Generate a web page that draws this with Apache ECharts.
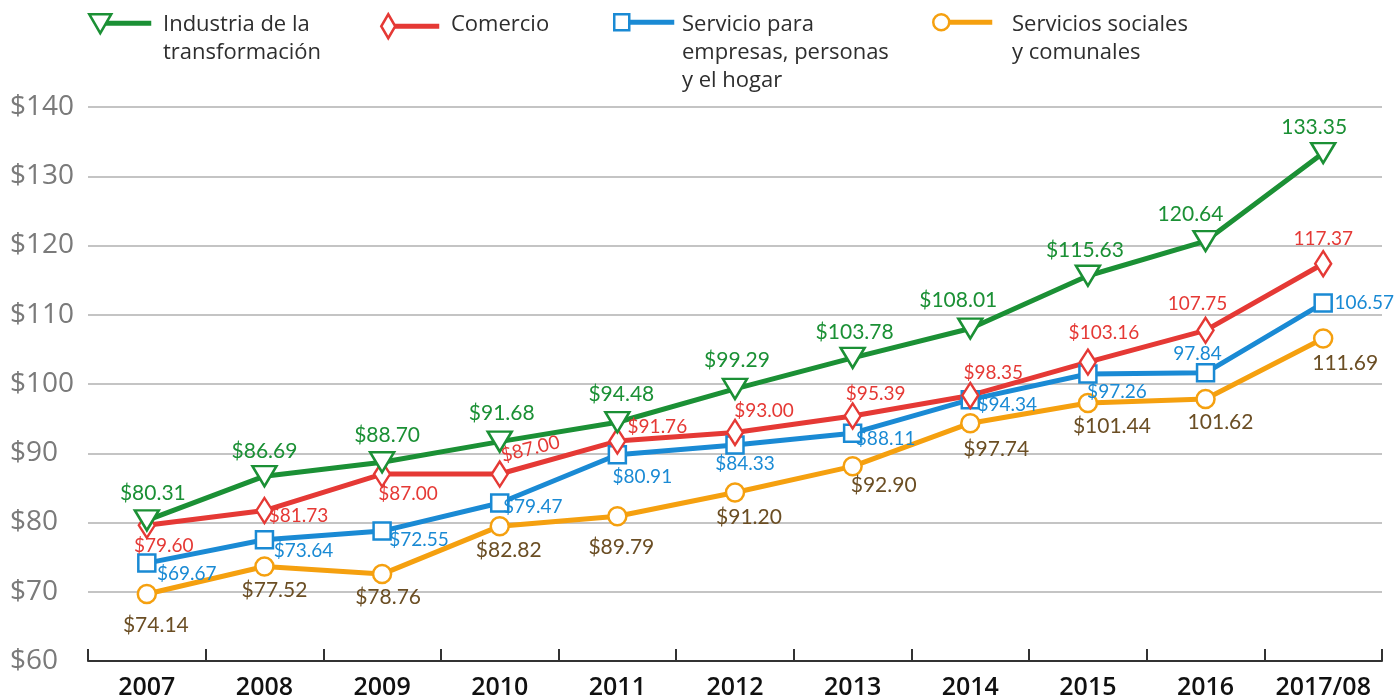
<!DOCTYPE html>
<html>
<head>
<meta charset="utf-8">
<script src="https://cdn.jsdelivr.net/npm/echarts@6/dist/echarts.min.js"></script>
<style>
    html, body { margin: 0; padding: 0; background: #fff; }
    #main { width: 1394px; height: 700px; }
</style>
</head>
<body>
<div id="main"></div>
<script>
    var years = ['2007', '2008', '2009', '2010', '2011', '2012', '2013', '2014', '2015', '2016', '2017/08'];
    var yTicks = [60, 70, 80, 90, 100, 110, 120, 130, 140];

    // valores graficados
    var industria = [80.31, 86.69, 88.70, 91.68, 94.48, 99.29, 103.78, 108.01, 115.63, 120.64, 133.35];
    var comercio = [79.60, 81.73, 87.00, 87.00, 91.76, 93.00, 95.39, 98.35, 103.16, 107.75, 117.37];
    var servEmpresas = [74.14, 77.52, 78.76, 82.82, 89.79, 91.20, 92.90, 97.74, 101.44, 101.62, 111.69];
    var servSociales = [69.67, 73.64, 72.55, 79.47, 80.91, 84.33, 88.11, 94.34, 97.26, 97.84, 106.57];

    // etiquetas tal como aparecen en la imagen
    var lblIndustria = ['$80.31', '$86.69', '$88.70', '$91.68', '$94.48', '$99.29', '$103.78', '$108.01', '$115.63', '120.64', '133.35'];
    var lblComercio = ['$79.60', '$81.73', '$87.00', '$87.00', '$91.76', '$93.00', '$95.39', '$98.35', '$103.16', '107.75', '117.37'];
    var lblEmpresas = ['$69.67', '$73.64', '$72.55', '$79.47', '$80.91', '$84.33', '$88.11', '$94.34', '$97.26', '97.84', '106.57'];
    var lblSociales = ['$74.14', '$77.52', '$78.76', '$82.82', '$89.79', '$91.20', '$92.90', '$97.74', '$101.44', '101.62', '111.69'];

    // desplazamiento de cada etiqueta respecto al punto
    var offIndustria = [[6,-27],[0,-25],[5,-27],[2,-28],[4,-28],[2,-29],[2,-26],[-12,-28],[-3,-26],[-15,-27],[-9,-26]];
    var offComercio = [[17,21],[34,5],[26,20],[36,-17],[40,-14],[29,-22],[23,-22],[23,-23],[16,-29],[-8,-26],[0,-25]];
    var offEmpresas = [[40,11],[39,11],[37,9],[33,4],[25,22],[10,19],[33,6],[37,5],[29,18],[-8,-19],[41,0]];
    var offSociales = [[9,31],[10,24],[6,23],[9,24],[4,31],[14,25],[31,19],[26,26],[24,23],[15,23],[22,25]];

    var GREEN = '#1b9035', RED = '#e53935', BLUE = '#1a8ad4', ORANGE = '#f5a00f', BROWN = '#6b4e24';

    function buildData(vals, labels, offs, color, size, rot) {
        return vals.map(function (v, i) {
            return {
                value: v,
                label: {
                    show: true,
                    position: 'inside',
                    offset: offs[i],
                    rotate: rot && rot[i] ? rot[i] : 0,
                    formatter: labels[i],
                    color: color,
                    fontSize: size,
                    fontFamily: 'Lato'
                }
            };
        });
    }

    function lineSeries(name, data, color, symbol, symbolSize, symbolRotate) {
        return {
            name: name,
            type: 'line',
            data: data,
            symbol: symbol,
            symbolSize: symbolSize,
            symbolRotate: symbolRotate || 0,
            showAllSymbol: true,
            lineStyle: { color: color, width: 5 },
            itemStyle: { color: '#fff', borderColor: color, borderWidth: 2.5 },
            emphasis: { disabled: true },
            z: 3
        };
    }

    var redRot = [0, 0, 0, 14, 0, 0, 0, 0, 0, 0, 0];

    var legendText = { fontFamily: 'Open Sans', fontSize: 22, fontWeight: 500, fill: '#2e2e2e', lineHeight: 28 };
    function legendIcon(x, color, shape) {
        return {
            type: 'group', left: x, top: 13,
            children: [
                { type: 'line', shape: { x1: 6, y1: 12, x2: 62, y2: 12 }, style: { stroke: color, lineWidth: 5 } },
                shape
            ]
        };
    }

    var myChart = echarts.init(document.getElementById('main'));
    var option = {
        animation: false,
        grid: { left: 88, right: 12, top: 107, bottom: 39 },
        xAxis: {
            type: 'category',
            data: years,
            boundaryGap: true,
            axisLine: { lineStyle: { color: '#333', width: 2 } },
            axisTick: { show: true, inside: true, length: 12, interval: 0, lineStyle: { color: '#333', width: 2 } },
            axisLabel: { color: '#111', fontSize: 25, fontWeight: 600, fontFamily: 'Open Sans', margin: 14, interval: 0 }
        },
        yAxis: {
            type: 'value',
            min: yTicks[0],
            max: yTicks[yTicks.length - 1],
            interval: 10,
            axisLine: { show: false },
            axisTick: { show: false },
            splitLine: { lineStyle: { color: '#c4c4c4', width: 2 } },
            axisLabel: {
                formatter: '${value}',
                color: '#7a7a7a',
                fontSize: 28,
                fontFamily: 'Open Sans',
                align: 'left',
                margin: 78
            }
        },
        graphic: [
            legendIcon(88, GREEN, { type: 'polygon', shape: { points: [[0,3],[22,3],[11,22]] }, style: { fill: '#fff', stroke: GREEN, lineWidth: 2.5 } }),
            { type: 'text', left: 163, top: 11, style: Object.assign({ text: 'Industria de la\ntransformación' }, legendText) },
            legendIcon(380, RED, { type: 'polygon', shape: { points: [[11,0],[18,12],[11,24],[4,12]] }, style: { fill: '#fff', stroke: RED, lineWidth: 2.5 } }),
            { type: 'text', left: 451, top: 11, style: Object.assign({ text: 'Comercio' }, legendText) },
            legendIcon(613, BLUE, { type: 'rect', shape: { x: 2, y: 4, width: 15, height: 16 }, style: { fill: '#fff', stroke: BLUE, lineWidth: 2.5 } }),
            { type: 'text', left: 682, top: 11, style: Object.assign({ text: 'Servicio para\nempresas, personas\ny el hogar' }, legendText) },
            legendIcon(932, ORANGE, { type: 'circle', shape: { cx: 11, cy: 12, r: 8 }, style: { fill: '#fff', stroke: ORANGE, lineWidth: 2.5 } }),
            { type: 'text', left: 1012, top: 11, style: Object.assign({ text: 'Servicios sociales\ny comunales' }, legendText) }
        ],
        series: [
            lineSeries('Servicios sociales y comunales', buildData(servSociales, lblSociales, offSociales, BROWN, 21), ORANGE, 'circle', 18),
            lineSeries('Servicio para empresas, personas y el hogar', buildData(servEmpresas, lblEmpresas, offEmpresas, BLUE, 19), BLUE, 'rect', 17),
            lineSeries('Comercio', buildData(comercio, lblComercio, offComercio, RED, 19, redRot), RED, 'diamond', [16, 25]),
            lineSeries('Industria de la transformación', buildData(industria, lblIndustria, offIndustria, GREEN, 21), GREEN, 'triangle', [24, 20], 180)
        ]
    };
    myChart.setOption(option, true);
</script>
</body>
</html>
